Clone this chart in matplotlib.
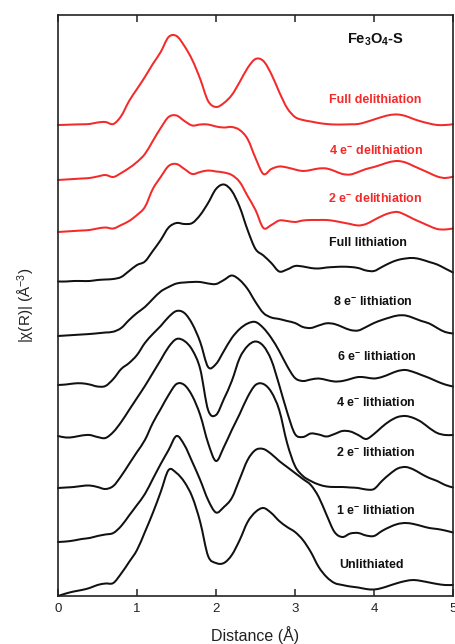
import numpy as np
import matplotlib
matplotlib.use("Agg")
import matplotlib.pyplot as plt
from matplotlib.path import Path
from matplotlib.patches import PathPatch

plt.rcParams['font.family'] = ['Liberation Sans', 'DejaVu Sans']
plt.rcParams['mathtext.fontset'] = 'custom'
plt.rcParams['mathtext.rm'] = 'Liberation Sans'
plt.rcParams['mathtext.bf'] = 'Liberation Sans:bold'
plt.rcParams['mathtext.it'] = 'Liberation Sans:italic'

# Distance grid (Å)
distance = np.linspace(0, 5, 51)

# |chi(R)| values (arbitrary units, relative to each trace's own baseline)
full_delith = [0, 0.2, 0.5, 0.7, 1, 2.5, 3, 1, 9, 24, 36, 48, 61, 73, 88, 89, 79, 65, 46, 24,
               18, 22, 30, 43, 57, 66, 64, 51, 33, 17, 8, 5, 3.5, 2, 1, 0.5, 0.5, 0.7, 1, 3,
               5.5, 8, 10, 10.5, 9, 6, 3.5, 1.5, 0, 0, 0.7]
delith_4e = [0, 0.5, 1, 1.5, 2, 3.5, 5, 3, 7, 12, 18, 26, 39, 52, 63, 64.5, 59, 54.5, 55.5, 55.5,
             53.5, 52.5, 53, 50, 41, 22, 6, 11, 13.5, 12.5, 10.5, 9, 10, 11.5, 11.5, 9, 6, 5.5, 8, 11,
             13, 15.5, 18, 19, 17.5, 14, 10.5, 7, 3.5, 2, 3.3]
delith_2e = [0, 0.5, 1, 1.5, 2, 3.5, 4.5, 3.5, 7, 11, 17, 25, 43, 55, 66, 68, 63, 58, 60, 61.5,
             60.5, 59.5, 57, 50, 36, 22, 4, 7, 11.5, 11, 10, 11.5, 12, 12, 12, 11, 9.5, 8, 6.5, 8,
             12, 16, 19, 20, 17, 13, 9.5, 6, 3, 2.5, 3.5]
full_lith = [0, 0, 0.5, 0.5, 0.5, 1.5, 2, 2.5, 4.5, 10.5, 16.5, 20, 30.5, 41.5, 54, 58.5, 57.5, 58.5, 66.5, 78.5,
             92.5, 97, 90.5, 74.5, 51.5, 32.5, 26, 18.5, 10, 12, 15.5, 15, 13.5, 13, 14, 14.5, 14.8, 14.5, 13.5, 11,
             10.5, 14.5, 18.5, 21.5, 23, 23.5, 22, 19.5, 17, 13, 9]
lith_8e = [0, 0.5, 1, 1.5, 2, 2.7, 3.5, 4.3, 8, 16, 23, 29, 37, 44.5, 49, 52.5, 53.5, 54, 54, 52.5,
           52, 56, 60.5, 56, 47, 34, 23, 18.5, 17, 15, 13, 9, 8, 10.5, 12.7, 12, 9, 6, 5.5, 9,
           13, 16, 18.5, 20.5, 20.5, 18, 15, 12.5, 8, 4, 2.5]
lith_6e = [0, 0.5, 1.5, 1.7, 0.5, -1.5, -1, 6, 16, 22, 30, 42, 51, 59, 68, 74, 72, 61, 43, 18,
           21, 34, 47, 56, 61.5, 63, 57, 47, 34, 19, 7, 4, 5.5, 6.5, 5, 3.5, 4, 6, 8, 7.5,
           6.5, 8, 11, 14, 15, 13, 10, 7, 3.5, 0.5, -1.5]
lith_4e = [0, -1.5, -1, 0.5, 1, -1, -2, 4, 14, 26, 38, 50, 63, 76, 89, 97, 95, 86, 67, 26,
           21, 37, 55, 78, 90, 94.5, 90, 76, 51, 24, 2, -1, 2.5, 1.5, -0.5, 2, 5, 4.5, 1, -3,
           2, 9, 15, 19, 20, 18, 14, 8, 3, 1, 1]
lith_2e = [0, 0.5, 1, 2, 2.5, 1, -1, 2, 12, 24, 36, 48, 65, 79, 93, 104, 103, 92, 73, 45,
           27, 41, 58, 74, 91, 103, 104, 96, 78, 45, 22, 12, 7, 3.5, 1.5, 1, 1, 0.5, 0, -1.5,
           -1, 7, 14, 19.5, 21, 18.5, 14, 10, 7, 3, 0.5]
lith_1e = [0, 0.5, 1.5, 3, 4, 6, 7.5, 9, 16, 26.5, 37, 48, 63, 78, 92, 106, 97, 80, 62, 42,
           29.5, 35, 44, 63, 82, 92, 93, 88, 81, 75, 69, 63, 57, 45, 27, 10, 5, 8.5, 9, 6.5,
           6, 11, 15, 18, 19, 18, 16, 14, 13, 11.5, 9.5]
unlithiated = [0, 2.5, 4.5, 6, 8, 11, 12.5, 13, 22.5, 34, 46, 64, 83, 104, 126, 123, 114, 99, 74, 40,
               33, 33, 41, 56, 74, 84, 88, 83, 75, 69, 64, 56, 44, 29, 19, 13, 11, 9.5, 8.5, 7,
               6.5, 8, 10.5, 13, 15, 16, 15, 13.5, 12, 11, 11]

series = [full_delith, delith_4e, delith_2e, full_lith, lith_8e,
          lith_6e, lith_4e, lith_2e, lith_1e, unlithiated]
labels = ['Full delithiation', r'4 e$^{\mathbf{-}}$ delithiation', r'2 e$^{\mathbf{-}}$ delithiation',
          'Full lithiation', r'8 e$^{\mathbf{-}}$ lithiation', r'6 e$^{\mathbf{-}}$ lithiation',
          r'4 e$^{\mathbf{-}}$ lithiation', r'2 e$^{\mathbf{-}}$ lithiation', r'1 e$^{\mathbf{-}}$ lithiation',
          'Unlithiated']
is_delith = [True, True, True, False, False, False, False, False, False, False]

# vertical stacking offsets and label placement (layout)
offsets = [471, 416, 364, 314.5, 260, 211, 160, 108, 54, 0]
label_x = [4.02, 4.03, 4.02, 3.92, 3.99, 4.04, 4.03, 4.03, 4.03, 3.97]
label_y = [496, 445, 397, 353, 294, 239, 193, 143, 85, 31]

RED = '#f42a2a'
BLACK = '#111111'


def smooth_path(x, y):
    """Catmull-Rom spline through the data points, drawn as cubic Bezier segments."""
    x = np.asarray(x, float)
    y = np.asarray(y, float)
    px = np.concatenate([[2 * x[0] - x[1]], x, [2 * x[-1] - x[-2]]])
    py = np.concatenate([[2 * y[0] - y[1]], y, [2 * y[-1] - y[-2]]])
    verts = [(x[0], y[0])]
    codes = [Path.MOVETO]
    for i in range(1, len(px) - 2):
        c1 = (px[i] + (px[i + 1] - px[i - 1]) / 6, py[i] + (py[i + 1] - py[i - 1]) / 6)
        c2 = (px[i + 1] - (px[i + 2] - px[i]) / 6, py[i + 1] - (py[i + 2] - py[i]) / 6)
        verts += [c1, c2, (px[i + 1], py[i + 1])]
        codes += [Path.CURVE4] * 3
    return Path(verts, codes)


fig = plt.figure(figsize=(4.55, 6.44), dpi=100)
ax = fig.add_axes([58 / 455, 48 / 644, 395 / 455, 581 / 644])

for vals, off, red in zip(series, offsets, is_delith):
    path = smooth_path(distance, np.asarray(vals) + off)
    ax.add_patch(PathPatch(path, fill=False, edgecolor=RED if red else BLACK, lw=1.45,
                           joinstyle='round', capstyle='round', clip_on=False))

for lab, lx, ly, red in zip(labels, label_x, label_y, is_delith):
    ax.text(lx, ly, lab, ha='center', va='center', fontsize=9, fontweight='bold',
            color=RED if red else BLACK)

ax.text(4.02, 556, r'Fe$_{\mathbf{3}}$O$_{\mathbf{4}}$-S', ha='center', va='center',
        fontsize=10.5, fontweight='bold', color=BLACK)

ax.set_xlim(0, 5)
ax.set_ylim(0, 581)
ax.set_xticks([0, 1, 2, 3, 4, 5])
ax.set_yticks([])
ax.tick_params(axis='x', direction='in', top=True, bottom=True, length=5, width=1.1,
               labelsize=9.5, pad=5, colors='#222222')
for sp in ax.spines.values():
    sp.set_linewidth(1.2)
    sp.set_color('#222222')

ax.set_xlabel('Distance (Å)', fontsize=11.5, labelpad=8, color='#222222')
ax.set_ylabel('|χ(R)| (Å$^{-3}$)', fontsize=11, labelpad=15, color='#222222')

fig.savefig('out.png', dpi=100)
